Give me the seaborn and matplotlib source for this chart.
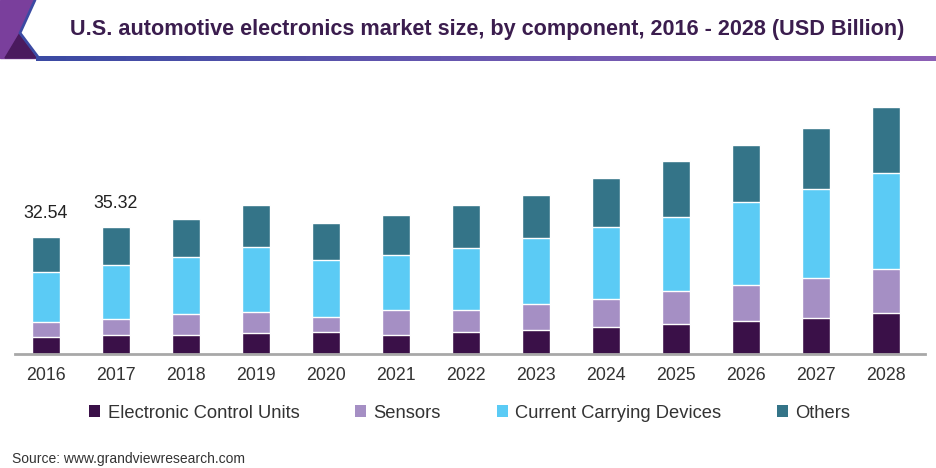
import matplotlib
matplotlib.use("Agg")
import matplotlib.pyplot as plt
from matplotlib.patches import Polygon, Patch
from matplotlib.collections import LineCollection
import matplotlib.colors as mcolors
import numpy as np
import seaborn as sns

years = [str(y) for y in range(2016, 2029)]
ecu = [4.6, 5.2, 5.3, 5.9, 6.0, 5.3, 6.0, 6.8, 7.4, 8.25, 9.1, 9.9, 11.5]
sensors = [4.3, 4.5, 5.9, 5.8, 4.4, 7.0, 6.3, 7.1, 7.9, 9.25, 10.1, 11.2, 12.2]
ccd = [14.0, 14.9, 15.8, 17.9, 15.7, 15.3, 17.2, 18.3, 20.1, 20.5, 22.9, 24.7, 26.5]
others = [9.64, 10.72, 10.5, 11.7, 10.2, 11.0, 11.9, 11.9, 13.4, 15.6, 15.9, 16.9, 18.4]
labels = {"2016": "32.54", "2017": "35.32"}

series_names = ["Electronic Control Units", "Sensors", "Current Carrying Devices", "Others"]
colors = ["#3a1048", "#a58fc4", "#5bcbf5", "#347488"]

sns.set_style("white")
plt.rcParams["font.family"] = ["Liberation Sans", "DejaVu Sans"]

fig = plt.figure(figsize=(9.36, 4.68), dpi=100)
W, H = 936, 468

# header decoration (figure pixel coords -> fraction)
def px(pts):
    return [(x / W, 1 - y / H) for x, y in pts]

fig.patches.append(Polygon(px([(0, 0), (40, 0), (40, 58), (0, 58)]), closed=True,
                           transform=fig.transFigure, color="#7a3f9c", zorder=0))
fig.patches.append(Polygon(px([(5, 58), (20, 33), (36, 58)]), closed=True,
                           transform=fig.transFigure, color="#4a1a5e", zorder=1))
fig.patches.append(Polygon(px([(35, 0), (936, 0), (936, 57), (38, 57), (20, 33)]), closed=True,
                           transform=fig.transFigure, color="white", zorder=2))
edge = np.array(px([(35, 0), (20, 33), (38, 57)]))
fig.lines.append(plt.Line2D(edge[:, 0], edge[:, 1], transform=fig.transFigure,
                            color="#3b4aa3", lw=2, zorder=3))
# gradient line under the title
n = 60
xs = np.linspace(36, 936, n + 1)
segs = [[(xs[i] / W, 1 - 58 / H), ((xs[i + 1] + 2) / W, 1 - 58 / H)] for i in range(n)]
cmap = mcolors.LinearSegmentedColormap.from_list("hdr", ["#3b4aa3", "#6a58b0", "#8c5fb5"])
lc = LineCollection(segs, colors=cmap(np.linspace(0, 1, n)), linewidths=2.2,
                    transform=fig.transFigure, zorder=3, capstyle="butt", antialiased=False)
fig.add_artist(lc)

fig.text(0.521, 1 - 30 / H, "U.S. automotive electronics market size, by component, 2016 - 2028 (USD Billion)",
         ha="center", va="center", fontsize=15.6, fontweight="bold", color="#3b1d4e")

ax = fig.add_axes([15 / W, (H - 354) / H, 910 / W, 264 / H])

# stacked bars: draw cumulative totals from the top layer down
stack = [ecu, sensors, ccd, others]
cum = np.cumsum(np.array(stack), axis=0)
for k in range(3, -1, -1):
    sns.barplot(x=years, y=cum[k], color=colors[k], saturation=1, width=0.41,
                ax=ax, zorder=2)

for i, yr in enumerate(years):
    if yr in labels:
        ax.annotate(labels[yr], xy=(i, cum[3][i]), xytext=(0, 11), textcoords="offset points",
                    ha="center", va="bottom", fontsize=12.8, color="#222222")

ax.set_xlim(-0.443, 12.557)
ax.set_ylim(0, 73.3)
ax.set_yticks([])
ax.set_xlabel("")
ax.set_ylabel("")
for s in ["top", "right", "left"]:
    ax.spines[s].set_visible(False)
ax.spines["bottom"].set_color("#a8a8a8")
ax.spines["bottom"].set_linewidth(2)
ax.tick_params(axis="x", length=0, pad=9, labelsize=12.8, labelcolor="#333333")

handles = [Patch(facecolor=c, edgecolor="none") for c in colors]
fig.legend(handles, series_names, loc="center", bbox_to_anchor=(0.502, 1 - 413 / H), ncol=4,
           frameon=False, fontsize=13.2, handlelength=0.6, handleheight=0.6,
           handletextpad=0.4, columnspacing=3.05, labelcolor="#333333")

fig.text(12 / W, 1 - 459 / H, "Source: www.grandviewresearch.com", ha="left", va="center",
         fontsize=10, color="#333333")

fig.savefig("out.png", dpi=100)
